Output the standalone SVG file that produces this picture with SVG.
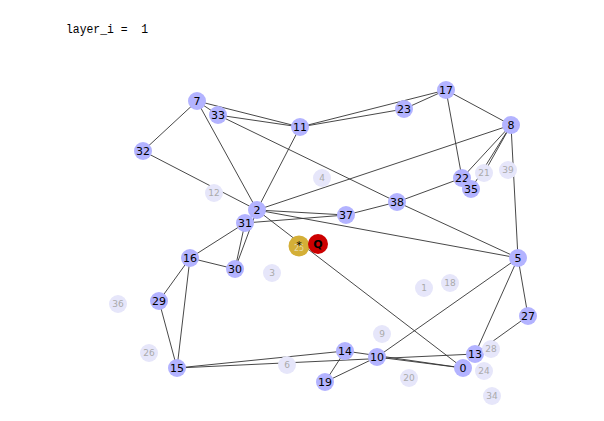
<svg xmlns="http://www.w3.org/2000/svg" width="604" height="421" viewBox="0 0 604 421">
<style>
.e{stroke:#333;stroke-width:0.9;fill:none}
.a circle{fill:#b3b3ff}
.a text{fill:#000;font-family:"DejaVu Sans",sans-serif;font-size:11px;text-anchor:middle;dominant-baseline:central}
.f circle{fill:#e6e6fa}
.f text{fill:#aaaaaa;font-family:"DejaVu Sans",sans-serif;font-size:9px;text-anchor:middle;dominant-baseline:central}
.t{font-family:"Liberation Mono",monospace;font-size:12.5px;fill:#000}
</style>
<rect width="604" height="421" fill="#fff"/>
<text class="t" x="66" y="33" xml:space="preserve" textLength="82" lengthAdjust="spacingAndGlyphs">layer_i =  1</text>
<g id="edges">
<line class="e" x1="197" y1="101" x2="218" y2="115"/>
<line class="e" x1="197" y1="101" x2="300" y2="127"/>
<line class="e" x1="218" y1="115" x2="300" y2="127"/>
<line class="e" x1="218" y1="115" x2="397" y2="202"/>
<line class="e" x1="197" y1="101" x2="143" y2="151"/>
<line class="e" x1="197" y1="101" x2="257" y2="210"/>
<line class="e" x1="143" y1="151" x2="257" y2="210"/>
<line class="e" x1="300" y1="127" x2="257" y2="210"/>
<line class="e" x1="300" y1="127" x2="446" y2="90"/>
<line class="e" x1="300" y1="127" x2="404" y2="109"/>
<line class="e" x1="404" y1="109" x2="446" y2="90"/>
<line class="e" x1="446" y1="90" x2="511" y2="125"/>
<line class="e" x1="446" y1="90" x2="462" y2="178"/>
<line class="e" x1="511" y1="125" x2="257" y2="210"/>
<line class="e" x1="511" y1="125" x2="462" y2="178"/>
<line class="e" x1="511" y1="125" x2="471" y2="189"/>
<line class="e" x1="511" y1="125" x2="484" y2="173"/>
<line class="e" x1="511" y1="125" x2="518" y2="258"/>
<line class="e" x1="462" y1="178" x2="397" y2="202"/>
<line class="e" x1="397" y1="202" x2="518" y2="258"/>
<line class="e" x1="346" y1="215" x2="397" y2="202"/>
<line class="e" x1="257" y1="210" x2="346" y2="215"/>
<line class="e" x1="245" y1="223" x2="346" y2="215"/>
<line class="e" x1="257" y1="210" x2="518" y2="258"/>
<line class="e" x1="257" y1="210" x2="463" y2="368"/>
<line class="e" x1="257" y1="210" x2="235" y2="269"/>
<line class="e" x1="245" y1="223" x2="235" y2="269"/>
<line class="e" x1="245" y1="223" x2="190" y2="258"/>
<line class="e" x1="190" y1="258" x2="235" y2="269"/>
<line class="e" x1="190" y1="258" x2="159" y2="301"/>
<line class="e" x1="190" y1="258" x2="177" y2="368"/>
<line class="e" x1="159" y1="301" x2="177" y2="368"/>
<line class="e" x1="177" y1="368" x2="345" y2="351"/>
<line class="e" x1="177" y1="368" x2="475" y2="354"/>
<line class="e" x1="345" y1="351" x2="463" y2="368"/>
<line class="e" x1="377" y1="357" x2="463" y2="368"/>
<line class="e" x1="345" y1="351" x2="325" y2="382"/>
<line class="e" x1="325" y1="382" x2="377" y2="357"/>
<line class="e" x1="377" y1="357" x2="518" y2="258"/>
<line class="e" x1="518" y1="258" x2="475" y2="354"/>
<line class="e" x1="518" y1="258" x2="528" y2="316"/>
<line class="e" x1="528" y1="316" x2="475" y2="354"/>
</g>
<g id="n12" class="f"><circle cx="214" cy="193" r="9"/><text x="214" y="193">12</text></g>
<g id="n4" class="f"><circle cx="322" cy="178" r="9"/><text x="322" y="178">4</text></g>
<g id="n21" class="f"><circle cx="484" cy="173" r="9"/><text x="484" y="173">21</text></g>
<g id="n39" class="f"><circle cx="508" cy="170" r="9"/><text x="508" y="170">39</text></g>
<g id="n3" class="f"><circle cx="272" cy="273" r="9"/><text x="272" y="273">3</text></g>
<g id="n1" class="f"><circle cx="424" cy="288" r="9"/><text x="424" y="288">1</text></g>
<g id="n18" class="f"><circle cx="450" cy="283" r="9"/><text x="450" y="283">18</text></g>
<g id="n36" class="f"><circle cx="118" cy="304" r="9"/><text x="118" y="304">36</text></g>
<g id="n9" class="f"><circle cx="382" cy="334" r="9"/><text x="382" y="334">9</text></g>
<g id="n26" class="f"><circle cx="149" cy="353" r="9"/><text x="149" y="353">26</text></g>
<g id="n6" class="f"><circle cx="287" cy="365" r="9"/><text x="287" y="365">6</text></g>
<g id="n20" class="f"><circle cx="409" cy="378" r="9"/><text x="409" y="378">20</text></g>
<g id="n34" class="f"><circle cx="492" cy="396" r="9"/><text x="492" y="396">34</text></g>
<g id="n7" class="a"><circle cx="197" cy="101" r="9"/><text x="197" y="101">7</text></g>
<g id="n33" class="a"><circle cx="218" cy="115" r="9"/><text x="218" y="115">33</text></g>
<g id="n11" class="a"><circle cx="300" cy="127" r="9"/><text x="300" y="127">11</text></g>
<g id="n23" class="a"><circle cx="404" cy="109" r="9"/><text x="404" y="109">23</text></g>
<g id="n17" class="a"><circle cx="446" cy="90" r="9"/><text x="446" y="90">17</text></g>
<g id="n8" class="a"><circle cx="511" cy="125" r="9"/><text x="511" y="125">8</text></g>
<g id="n32" class="a"><circle cx="143" cy="151" r="9"/><text x="143" y="151">32</text></g>
<g id="n22" class="a"><circle cx="462" cy="178" r="9"/><text x="462" y="178">22</text></g>
<g id="n35" class="a"><circle cx="471" cy="189" r="9"/><text x="471" y="189">35</text></g>
<g id="n38" class="a"><circle cx="397" cy="202" r="9"/><text x="397" y="202">38</text></g>
<g id="n37" class="a"><circle cx="346" cy="215" r="9"/><text x="346" y="215">37</text></g>
<g id="n2" class="a"><circle cx="257" cy="210" r="9"/><text x="257" y="210">2</text></g>
<g id="n31" class="a"><circle cx="245" cy="223" r="9"/><text x="245" y="223">31</text></g>
<g id="n16" class="a"><circle cx="190" cy="258" r="9"/><text x="190" y="258">16</text></g>
<g id="n30" class="a"><circle cx="235" cy="269" r="9"/><text x="235" y="269">30</text></g>
<g id="n5" class="a"><circle cx="518" cy="258" r="9"/><text x="518" y="258">5</text></g>
<g id="n29" class="a"><circle cx="159" cy="301" r="9"/><text x="159" y="301">29</text></g>
<g id="n27" class="a"><circle cx="528" cy="316" r="9"/><text x="528" y="316">27</text></g>
<g id="n14" class="a"><circle cx="345" cy="351" r="9"/><text x="345" y="351">14</text></g>
<g id="n10" class="a"><circle cx="377" cy="357" r="9"/><text x="377" y="357">10</text></g>
<g id="n13" class="a"><circle cx="475" cy="354" r="9"/><text x="475" y="354">13</text></g>
<g id="n0" class="a"><circle cx="463" cy="368" r="9"/><text x="463" y="368">0</text></g>
<g id="n15" class="a"><circle cx="177" cy="368" r="9"/><text x="177" y="368">15</text></g>
<g id="n19" class="a"><circle cx="325" cy="382" r="9"/><text x="325" y="382">19</text></g>
<g id="n28" class="f"><circle cx="491" cy="349" r="9"/><text x="491" y="349">28</text></g>
<g id="n24" class="f"><circle cx="484" cy="371" r="9"/><text x="484" y="371">24</text></g>
<g id="n25">
<circle cx="299" cy="246" r="10.5" fill="#d4af37"/>
<text x="299" y="251" fill="#e6d9a8" font-family="DejaVu Sans,sans-serif" font-size="8" text-anchor="middle">25</text>
<text x="299" y="245" fill="#000" font-family="DejaVu Sans,sans-serif" font-size="11" text-anchor="middle" dominant-baseline="central">*</text>
</g>
<g id="nQ">
<circle cx="318" cy="244" r="10" fill="#cc0000"/>
<text x="318" y="244" fill="#000" font-family="DejaVu Sans,sans-serif" font-size="11" font-weight="bold" text-anchor="middle" dominant-baseline="central">Q</text>
</g>
</svg>
